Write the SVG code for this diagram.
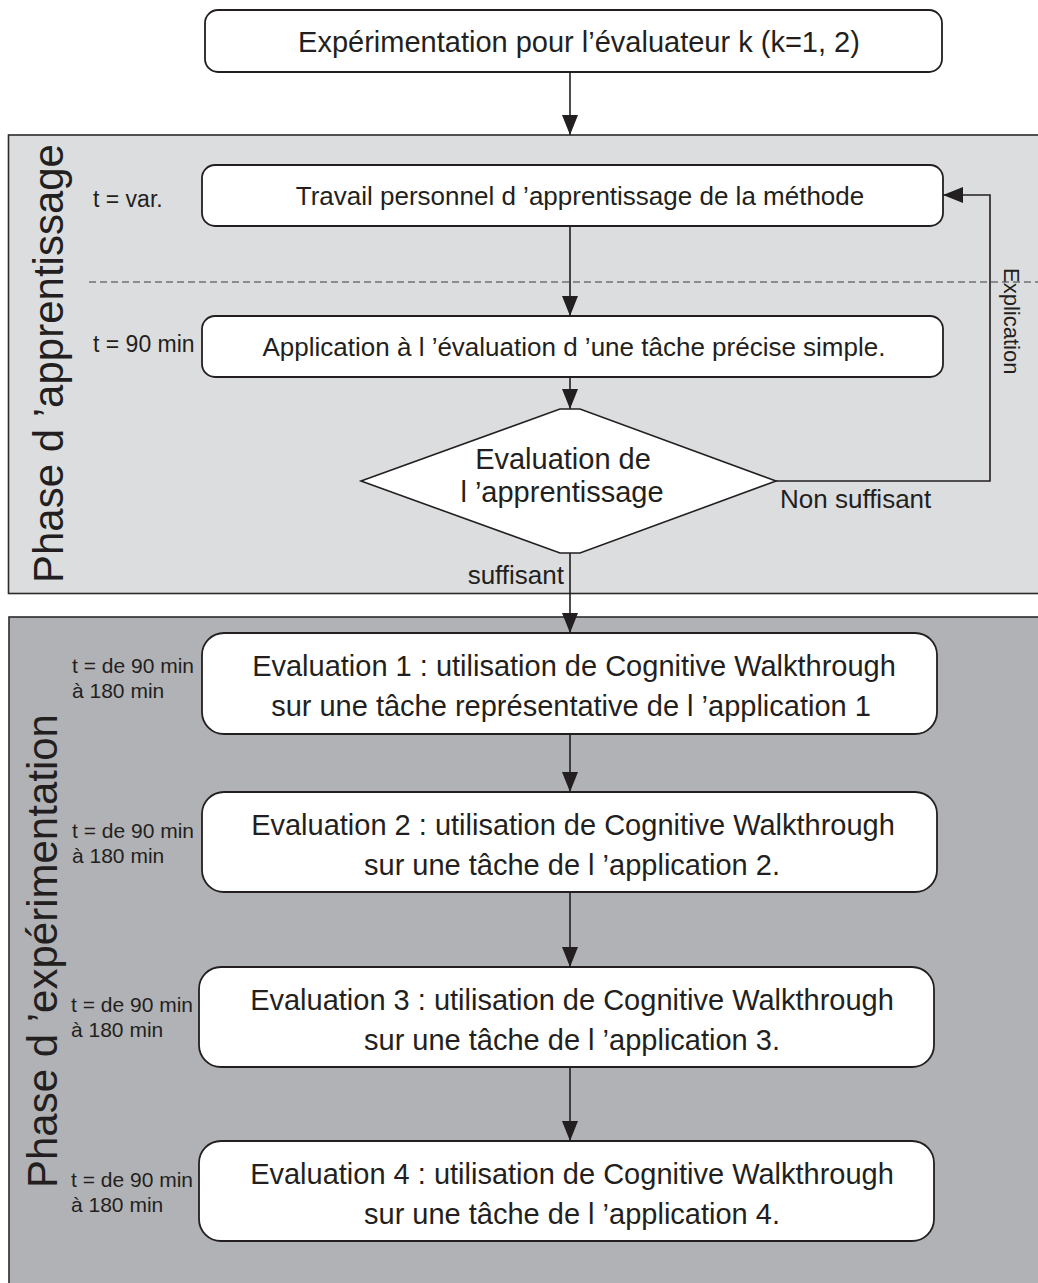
<svg xmlns="http://www.w3.org/2000/svg" width="1038" height="1283" viewBox="0 0 1038 1283">
<defs>
<marker id="arr" markerUnits="userSpaceOnUse" markerWidth="20" markerHeight="16" refX="20" refY="8" orient="auto">
<path d="M0,0 L20,8 L0,16 z" fill="#231f20"/>
</marker>
<style>
text{font-family:"Liberation Sans",Arial,sans-serif;fill:#231f20}
.box{fill:#fff;stroke:#231f20;stroke-width:1.8}
.big{font-size:29px}
.mid{font-size:26px}
.lbl{font-size:23px}
.sm{font-size:21px}
.phase{font-size:42px}
.c{text-anchor:middle}
.edge{fill:none;stroke:#231f20;stroke-width:1.6}
</style>
</defs>
<rect width="1038" height="1283" fill="#fff"/>
<g id="panel-apprentissage">
<rect x="8.5" y="135" width="1040" height="458.5" fill="#dcdddf" stroke="#2b2b2b" stroke-width="1.6"/>
<line x1="89" y1="282" x2="1038" y2="282" stroke="#3a3a3a" stroke-width="1.2" stroke-dasharray="7 4"/>
<text class="phase" transform="translate(63,583) rotate(-90)">Phase d ’apprentissage</text>
</g>
<g id="panel-experimentation">
<rect x="9" y="617" width="1040" height="700" fill="#b1b2b5" stroke="#2b2b2b" stroke-width="1.6"/>
<text class="phase" transform="translate(57,1188) rotate(-90)">Phase d ’expérimentation</text>
</g>
<g id="n-top">
<rect class="box" x="205" y="10" width="737" height="62" rx="13"/>
<text class="big c" x="579" y="52">Expérimentation pour l’évaluateur k (k=1, 2)</text>
</g>
<g id="n-travail">
<rect class="box" x="202" y="165" width="741" height="61" rx="13"/>
<text class="mid c" x="580" y="205">Travail personnel d ’apprentissage de la méthode</text>
<text class="lbl" x="93" y="207">t = var.</text>
</g>
<g id="n-application">
<rect class="box" x="202" y="316" width="741" height="61" rx="13"/>
<text class="mid c" x="574" y="356">Application à l ’évaluation d ’une tâche précise simple.</text>
<text class="lbl" x="93" y="352">t = 90 min</text>
</g>
<g id="n-decision">
<polygon points="560,409 580,409 776,481 580,553 560,553 361,481" fill="#fff" stroke="#231f20" stroke-width="1.6"/>
<text class="big c" x="563" y="469">Evaluation de</text>
<text class="big c" x="562" y="502">l ’apprentissage</text>
</g>
<g id="n-eval1">
<rect class="box" x="202" y="633" width="735" height="101" rx="22"/>
<text class="big c" x="574" y="676">Evaluation 1 : utilisation de Cognitive Walkthrough</text>
<text class="big c" x="571" y="716">sur une tâche représentative de l ’application 1</text>
<text class="sm" x="72" y="673">t = de 90 min</text>
<text class="sm" x="72" y="698">à 180 min</text>
</g>
<g id="n-eval2">
<rect class="box" x="202" y="792" width="735" height="100" rx="22"/>
<text class="big c" x="573" y="835">Evaluation 2 : utilisation de Cognitive Walkthrough</text>
<text class="big c" x="572" y="875">sur une tâche de l ’application 2.</text>
<text class="sm" x="72" y="838">t = de 90 min</text>
<text class="sm" x="72" y="863">à 180 min</text>
</g>
<g id="n-eval3">
<rect class="box" x="199" y="967" width="735" height="100" rx="22"/>
<text class="big c" x="572" y="1010">Evaluation 3 : utilisation de Cognitive Walkthrough</text>
<text class="big c" x="572" y="1050">sur une tâche de l ’application 3.</text>
<text class="sm" x="71" y="1012">t = de 90 min</text>
<text class="sm" x="71" y="1037">à 180 min</text>
</g>
<g id="n-eval4">
<rect class="box" x="199" y="1141" width="735" height="100" rx="22"/>
<text class="big c" x="572" y="1184">Evaluation 4 : utilisation de Cognitive Walkthrough</text>
<text class="big c" x="572" y="1224">sur une tâche de l ’application 4.</text>
<text class="sm" x="71" y="1187">t = de 90 min</text>
<text class="sm" x="71" y="1212">à 180 min</text>
</g>
<g id="connectors">
<line class="edge" x1="570" y1="72" x2="570" y2="135" marker-end="url(#arr)"/>
<line class="edge" x1="570" y1="226" x2="570" y2="316" marker-end="url(#arr)"/>
<line class="edge" x1="570" y1="377" x2="570" y2="409" marker-end="url(#arr)"/>
<polyline class="edge" points="776,481 990,481 990,195 943,195" marker-end="url(#arr)"/>
<line class="edge" x1="570" y1="553" x2="570" y2="633" marker-end="url(#arr)"/>
<line class="edge" x1="570" y1="734" x2="570" y2="792" marker-end="url(#arr)"/>
<line class="edge" x1="570" y1="892" x2="570" y2="967" marker-end="url(#arr)"/>
<line class="edge" x1="570" y1="1067" x2="570" y2="1141" marker-end="url(#arr)"/>
<text class="mid" x="780" y="508">Non suffisant</text>
<text class="mid" x="564" y="584" text-anchor="end">suffisant</text>
<text class="sm" transform="translate(1004,268) rotate(90)" style="font-size:22px">Explication</text>
</g>
</svg>
